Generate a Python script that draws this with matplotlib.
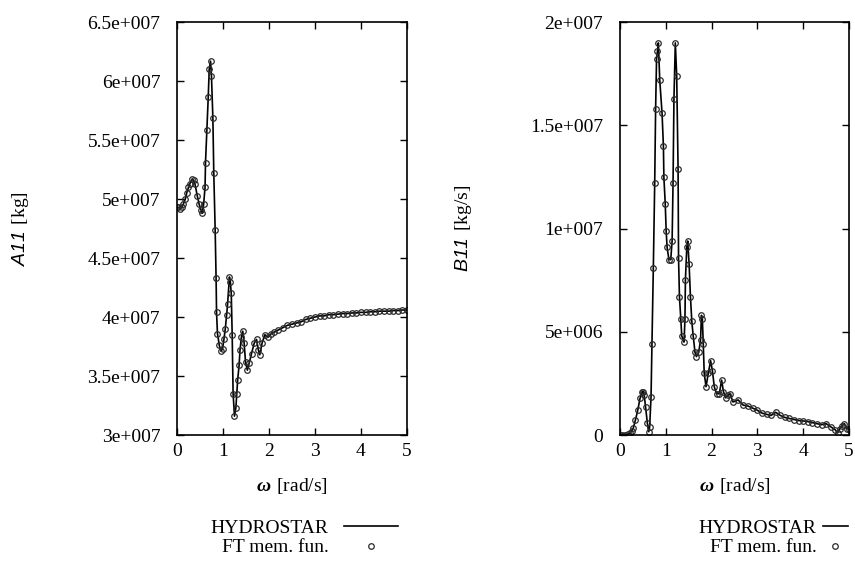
import matplotlib
matplotlib.use('Agg')
import matplotlib.pyplot as plt

plt.rcParams['font.family'] = 'Liberation Serif'
plt.rcParams['font.size'] = 14
plt.rcParams['mathtext.fontset'] = 'custom'
plt.rcParams['mathtext.rm'] = 'Liberation Serif'
plt.rcParams['mathtext.sf'] = 'Liberation Sans:italic'
plt.rcParams['mathtext.bf'] = 'Liberation Serif:italic:bold'

# added mass A11 (units of 1e7 kg) vs omega
w_a = [0.0, 0.03, 0.065, 0.1, 0.14, 0.18, 0.21, 0.25, 0.28, 0.33, 0.36, 0.39,
       0.44, 0.48, 0.52, 0.55, 0.58, 0.61, 0.62, 0.65, 0.68, 0.70, 0.73, 0.75,
       0.78, 0.80, 0.83, 0.85, 0.86, 0.88, 0.92, 0.96, 0.99, 1.02, 1.05, 1.08,
       1.10, 1.14, 1.16, 1.18, 1.20, 1.22, 1.25, 1.28, 1.30, 1.32, 1.35, 1.37,
       1.40, 1.43, 1.46, 1.49, 1.53, 1.57, 1.62, 1.68, 1.73, 1.77, 1.80, 1.85,
       1.91, 1.98, 2.05, 2.1, 2.2, 2.3, 2.4, 2.5, 2.6, 2.7, 2.8, 2.9, 3.0, 3.1,
       3.2, 3.3, 3.4, 3.5, 3.6, 3.7, 3.8, 3.9, 4.0, 4.1, 4.2, 4.3, 4.4, 4.5,
       4.6, 4.7, 4.8, 4.9, 5.0]
a11 = [4.93, 4.93, 4.92, 4.93, 4.96, 5.00, 5.05, 5.10, 5.13, 5.17, 5.16, 5.13,
       5.03, 4.96, 4.91, 4.88, 4.96, 5.10, 5.31, 5.59, 5.87, 6.10, 6.17, 6.04,
       5.69, 5.22, 4.74, 4.33, 4.04, 3.86, 3.76, 3.71, 3.73, 3.81, 3.90, 4.02,
       4.11, 4.34, 4.30, 4.20, 3.85, 3.35, 3.16, 3.23, 3.35, 3.47, 3.59, 3.72,
       3.83, 3.88, 3.78, 3.62, 3.55, 3.61, 3.69, 3.78, 3.81, 3.72, 3.68, 3.78,
       3.85, 3.83, 3.86, 3.87, 3.89, 3.91, 3.93, 3.94, 3.95, 3.96, 3.98, 3.99,
       4.00, 4.01, 4.01, 4.02, 4.02, 4.025, 4.03, 4.03, 4.035, 4.035, 4.04,
       4.04, 4.045, 4.045, 4.05, 4.05, 4.05, 4.055, 4.055, 4.06, 4.06]

# damping B11 (units of 1e6 kg/s) vs omega
w_b = [0.0, 0.05, 0.11, 0.17, 0.22, 0.26, 0.29, 0.34, 0.39, 0.44, 0.49, 0.51,
       0.53, 0.56, 0.60, 0.63, 0.65, 0.68, 0.70, 0.73, 0.76, 0.78, 0.80, 0.82,
       0.84, 0.87, 0.92, 0.95, 0.96, 0.99, 1.01, 1.03, 1.07, 1.11, 1.14, 1.16,
       1.18, 1.21, 1.24, 1.27, 1.28, 1.30, 1.33, 1.35, 1.40, 1.42, 1.43, 1.46,
       1.48, 1.51, 1.54, 1.57, 1.60, 1.64, 1.67, 1.72, 1.76, 1.78, 1.80, 1.82,
       1.84, 1.88, 1.93, 1.98, 2.02, 2.06, 2.11, 2.17, 2.22, 2.26, 2.31, 2.37,
       2.40, 2.47, 2.58, 2.69, 2.80, 2.90, 3.0, 3.1, 3.2, 3.3, 3.4, 3.5, 3.6,
       3.7, 3.8, 3.9, 4.0, 4.1, 4.2, 4.3, 4.4, 4.5, 4.6, 4.7, 4.75, 4.8, 4.85,
       4.9, 4.95, 5.0]
b11 = [0.0, 0.0, 0.0, 0.05, 0.08, 0.2, 0.32, 0.73, 1.2, 1.78, 2.1, 2.1,
       1.94, 1.37, 0.57, 0.16, 0.4, 1.85, 4.4, 8.1, 12.2, 15.8, 18.2, 18.6,
       19.0, 17.2, 15.6, 14.0, 12.5, 11.2, 9.9, 9.1, 8.5, 8.5, 9.4, 12.2,
       16.3, 19.0, 17.4, 12.9, 8.6, 6.7, 5.6, 4.8, 4.5, 5.6, 7.5, 9.1,
       9.4, 8.3, 6.7, 5.5, 4.8, 4.0, 3.8, 4.0, 4.6, 5.8, 5.6, 4.4,
       3.0, 2.34, 3.0, 3.6, 3.1, 2.34, 2.0, 2.0, 2.66, 2.1, 1.8, 1.94,
       2.0, 1.6, 1.7, 1.45, 1.4, 1.3, 1.2, 1.06, 1.0, 0.95, 1.1, 0.95, 0.85,
       0.8, 0.75, 0.7, 0.68, 0.65, 0.6, 0.55, 0.5, 0.55, 0.4, 0.25, 0.1, 0.3,
       0.45, 0.55, 0.3, 0.3]

a_ticks = [3.0, 3.5, 4.0, 4.5, 5.0, 5.5, 6.0, 6.5]
a_labels = ['3e+007', '3.5e+007', '4e+007', '4.5e+007', '5e+007',
            '5.5e+007', '6e+007', '6.5e+007']
b_ticks = [0, 5, 10, 15, 20]
b_labels = ['0', '5e+006', '1e+007', '1.5e+007', '2e+007']
x_ticks = [0, 1, 2, 3, 4, 5]

fig = plt.figure(figsize=(8.55, 5.67), dpi=100)
ax1 = fig.add_axes([0.207, 0.2328, 0.269, 0.728])
ax2 = fig.add_axes([0.725, 0.2328, 0.268, 0.728])

panels = [
    (ax1, w_a, a11, (3.0, 6.5), a_ticks, a_labels, r'$\mathsf{A11}\ \mathrm{[kg]}$', 2.75, 0.8, 0.96),
    (ax2, w_b, b11, (0, 20), b_ticks, b_labels, r'$\mathsf{B11}\ \mathrm{[kg/s]}$', 1.3, 0.3, 0.995),
]

for ax, x, y, ylim, yt, yl, ylab, hl, hp, lx in panels:
    ax.plot(x, y, '-', color='black', lw=1.2, label='HYDROSTAR')
    ax.plot(x, y, 'o', ls='none', ms=4, mfc='none', mec='#2a2a2a', mew=0.9,
            label='FT mem. fun.')
    ax.set_xlim(0, 5)
    ax.set_ylim(*ylim)
    ax.set_xticks(x_ticks)
    ax.set_yticks(yt)
    ax.set_yticklabels(yl)
    ax.tick_params(direction='in', top=True, right=True, length=5, width=1)
    ax.tick_params(axis='y', pad=12)
    ax.tick_params(axis='x', pad=6)
    for s in ax.spines.values():
        s.set_linewidth(1.2)
    ax.set_ylabel(ylab, fontsize=14)
    ax.yaxis.set_label_coords(-0.635, 0.5)
    ax.set_xlabel(r'$\mathbf{\omega}\ \mathrm{[rad/s]}$', fontsize=14)
    ax.xaxis.set_label_coords(0.5, -0.1)
    ax.legend(loc='upper right', bbox_to_anchor=(lx, -0.204), frameon=False,
              markerfirst=False, handlelength=hl, handletextpad=hp,
              labelspacing=0.1, borderpad=0, borderaxespad=0, fontsize=14)

plt.savefig('out.png', format='png', dpi=100)
